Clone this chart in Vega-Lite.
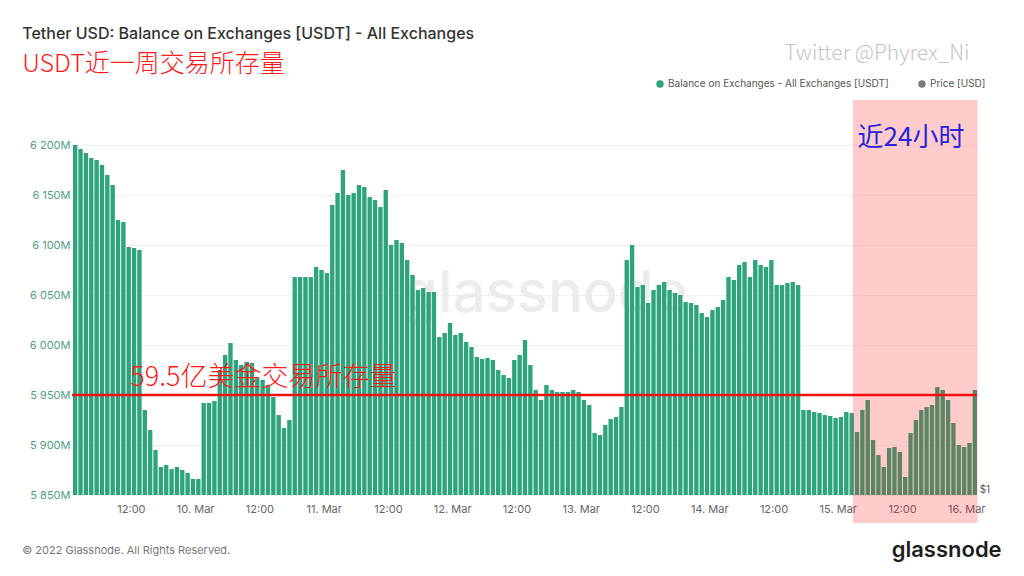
{
  "$schema": "https://vega.github.io/schema/vega-lite/v6.json",
  "width": 905,
  "height": 395,
  "autosize": "none",
  "padding": {"left": 72, "top": 100, "right": 47, "bottom": 81},
  "background": "white",
  "config": {"view": {"stroke": null}, "font": "Inter"},
  "datasets": {
    "balance": [
      {"t": "2022-03-09T01:00Z", "v": 6200}, {"t": "2022-03-09T02:00Z", "v": 6196}, {"t": "2022-03-09T03:00Z", "v": 6192},
      {"t": "2022-03-09T04:00Z", "v": 6187}, {"t": "2022-03-09T05:00Z", "v": 6185}, {"t": "2022-03-09T06:00Z", "v": 6180},
      {"t": "2022-03-09T07:00Z", "v": 6170}, {"t": "2022-03-09T08:00Z", "v": 6160}, {"t": "2022-03-09T09:00Z", "v": 6125},
      {"t": "2022-03-09T10:00Z", "v": 6123}, {"t": "2022-03-09T11:00Z", "v": 6098}, {"t": "2022-03-09T12:00Z", "v": 6097},
      {"t": "2022-03-09T13:00Z", "v": 6095}, {"t": "2022-03-09T14:00Z", "v": 5935}, {"t": "2022-03-09T15:00Z", "v": 5915},
      {"t": "2022-03-09T16:00Z", "v": 5895}, {"t": "2022-03-09T17:00Z", "v": 5878}, {"t": "2022-03-09T18:00Z", "v": 5880},
      {"t": "2022-03-09T19:00Z", "v": 5876}, {"t": "2022-03-09T20:00Z", "v": 5878}, {"t": "2022-03-09T21:00Z", "v": 5875},
      {"t": "2022-03-09T22:00Z", "v": 5872}, {"t": "2022-03-09T23:00Z", "v": 5866}, {"t": "2022-03-10T00:00Z", "v": 5866},
      {"t": "2022-03-10T01:00Z", "v": 5942}, {"t": "2022-03-10T02:00Z", "v": 5942}, {"t": "2022-03-10T03:00Z", "v": 5944},
      {"t": "2022-03-10T04:00Z", "v": 5975}, {"t": "2022-03-10T05:00Z", "v": 5990}, {"t": "2022-03-10T06:00Z", "v": 6002},
      {"t": "2022-03-10T07:00Z", "v": 5985}, {"t": "2022-03-10T08:00Z", "v": 5980}, {"t": "2022-03-10T09:00Z", "v": 5983},
      {"t": "2022-03-10T10:00Z", "v": 5982}, {"t": "2022-03-10T11:00Z", "v": 5968}, {"t": "2022-03-10T12:00Z", "v": 5965},
      {"t": "2022-03-10T13:00Z", "v": 5960}, {"t": "2022-03-10T14:00Z", "v": 5948}, {"t": "2022-03-10T15:00Z", "v": 5930},
      {"t": "2022-03-10T16:00Z", "v": 5917}, {"t": "2022-03-10T17:00Z", "v": 5925}, {"t": "2022-03-10T18:00Z", "v": 6068},
      {"t": "2022-03-10T19:00Z", "v": 6068}, {"t": "2022-03-10T20:00Z", "v": 6068}, {"t": "2022-03-10T21:00Z", "v": 6068},
      {"t": "2022-03-10T22:00Z", "v": 6078}, {"t": "2022-03-10T23:00Z", "v": 6075}, {"t": "2022-03-11T00:00Z", "v": 6072},
      {"t": "2022-03-11T01:00Z", "v": 6140}, {"t": "2022-03-11T02:00Z", "v": 6152}, {"t": "2022-03-11T03:00Z", "v": 6175},
      {"t": "2022-03-11T04:00Z", "v": 6150}, {"t": "2022-03-11T05:00Z", "v": 6152}, {"t": "2022-03-11T06:00Z", "v": 6160},
      {"t": "2022-03-11T07:00Z", "v": 6158}, {"t": "2022-03-11T08:00Z", "v": 6148}, {"t": "2022-03-11T09:00Z", "v": 6145},
      {"t": "2022-03-11T10:00Z", "v": 6138}, {"t": "2022-03-11T11:00Z", "v": 6155}, {"t": "2022-03-11T12:00Z", "v": 6100},
      {"t": "2022-03-11T13:00Z", "v": 6105}, {"t": "2022-03-11T14:00Z", "v": 6102}, {"t": "2022-03-11T15:00Z", "v": 6085},
      {"t": "2022-03-11T16:00Z", "v": 6070}, {"t": "2022-03-11T17:00Z", "v": 6055}, {"t": "2022-03-11T18:00Z", "v": 6057},
      {"t": "2022-03-11T19:00Z", "v": 6053}, {"t": "2022-03-11T20:00Z", "v": 6053}, {"t": "2022-03-11T21:00Z", "v": 6008},
      {"t": "2022-03-11T22:00Z", "v": 6012}, {"t": "2022-03-11T23:00Z", "v": 6022}, {"t": "2022-03-12T00:00Z", "v": 6010},
      {"t": "2022-03-12T01:00Z", "v": 6012}, {"t": "2022-03-12T02:00Z", "v": 6003}, {"t": "2022-03-12T03:00Z", "v": 5998},
      {"t": "2022-03-12T04:00Z", "v": 5988}, {"t": "2022-03-12T05:00Z", "v": 5986}, {"t": "2022-03-12T06:00Z", "v": 5987},
      {"t": "2022-03-12T07:00Z", "v": 5985}, {"t": "2022-03-12T08:00Z", "v": 5975}, {"t": "2022-03-12T09:00Z", "v": 5970},
      {"t": "2022-03-12T10:00Z", "v": 5967}, {"t": "2022-03-12T11:00Z", "v": 5985}, {"t": "2022-03-12T12:00Z", "v": 5990},
      {"t": "2022-03-12T13:00Z", "v": 6005}, {"t": "2022-03-12T14:00Z", "v": 5980}, {"t": "2022-03-12T15:00Z", "v": 5955},
      {"t": "2022-03-12T16:00Z", "v": 5945}, {"t": "2022-03-12T17:00Z", "v": 5960}, {"t": "2022-03-12T18:00Z", "v": 5955},
      {"t": "2022-03-12T19:00Z", "v": 5953}, {"t": "2022-03-12T20:00Z", "v": 5953}, {"t": "2022-03-12T21:00Z", "v": 5953},
      {"t": "2022-03-12T22:00Z", "v": 5955}, {"t": "2022-03-12T23:00Z", "v": 5953}, {"t": "2022-03-13T00:00Z", "v": 5945},
      {"t": "2022-03-13T01:00Z", "v": 5940}, {"t": "2022-03-13T02:00Z", "v": 5912}, {"t": "2022-03-13T03:00Z", "v": 5910},
      {"t": "2022-03-13T04:00Z", "v": 5920}, {"t": "2022-03-13T05:00Z", "v": 5926}, {"t": "2022-03-13T06:00Z", "v": 5928},
      {"t": "2022-03-13T07:00Z", "v": 5938}, {"t": "2022-03-13T08:00Z", "v": 6085}, {"t": "2022-03-13T09:00Z", "v": 6100},
      {"t": "2022-03-13T10:00Z", "v": 6058}, {"t": "2022-03-13T11:00Z", "v": 6060}, {"t": "2022-03-13T12:00Z", "v": 6042},
      {"t": "2022-03-13T13:00Z", "v": 6055}, {"t": "2022-03-13T14:00Z", "v": 6060}, {"t": "2022-03-13T15:00Z", "v": 6063},
      {"t": "2022-03-13T16:00Z", "v": 6055}, {"t": "2022-03-13T17:00Z", "v": 6052}, {"t": "2022-03-13T18:00Z", "v": 6050},
      {"t": "2022-03-13T19:00Z", "v": 6043}, {"t": "2022-03-13T20:00Z", "v": 6042}, {"t": "2022-03-13T21:00Z", "v": 6040},
      {"t": "2022-03-13T22:00Z", "v": 6032}, {"t": "2022-03-13T23:00Z", "v": 6028}, {"t": "2022-03-14T00:00Z", "v": 6035},
      {"t": "2022-03-14T01:00Z", "v": 6038}, {"t": "2022-03-14T02:00Z", "v": 6045}, {"t": "2022-03-14T03:00Z", "v": 6068},
      {"t": "2022-03-14T04:00Z", "v": 6065}, {"t": "2022-03-14T05:00Z", "v": 6080}, {"t": "2022-03-14T06:00Z", "v": 6083},
      {"t": "2022-03-14T07:00Z", "v": 6068}, {"t": "2022-03-14T08:00Z", "v": 6085}, {"t": "2022-03-14T09:00Z", "v": 6080},
      {"t": "2022-03-14T10:00Z", "v": 6078}, {"t": "2022-03-14T11:00Z", "v": 6085}, {"t": "2022-03-14T12:00Z", "v": 6060},
      {"t": "2022-03-14T13:00Z", "v": 6060}, {"t": "2022-03-14T14:00Z", "v": 6062}, {"t": "2022-03-14T15:00Z", "v": 6063},
      {"t": "2022-03-14T16:00Z", "v": 6060}, {"t": "2022-03-14T17:00Z", "v": 5935}, {"t": "2022-03-14T18:00Z", "v": 5935},
      {"t": "2022-03-14T19:00Z", "v": 5933}, {"t": "2022-03-14T20:00Z", "v": 5932}, {"t": "2022-03-14T21:00Z", "v": 5930},
      {"t": "2022-03-14T22:00Z", "v": 5929}, {"t": "2022-03-14T23:00Z", "v": 5927}, {"t": "2022-03-15T00:00Z", "v": 5928},
      {"t": "2022-03-15T01:00Z", "v": 5933}, {"t": "2022-03-15T02:00Z", "v": 5932}, {"t": "2022-03-15T03:00Z", "v": 5913},
      {"t": "2022-03-15T04:00Z", "v": 5935}, {"t": "2022-03-15T05:00Z", "v": 5945}, {"t": "2022-03-15T06:00Z", "v": 5905},
      {"t": "2022-03-15T07:00Z", "v": 5890}, {"t": "2022-03-15T08:00Z", "v": 5878}, {"t": "2022-03-15T09:00Z", "v": 5897},
      {"t": "2022-03-15T10:00Z", "v": 5898}, {"t": "2022-03-15T11:00Z", "v": 5893}, {"t": "2022-03-15T12:00Z", "v": 5868},
      {"t": "2022-03-15T13:00Z", "v": 5912}, {"t": "2022-03-15T14:00Z", "v": 5925}, {"t": "2022-03-15T15:00Z", "v": 5935},
      {"t": "2022-03-15T16:00Z", "v": 5938}, {"t": "2022-03-15T17:00Z", "v": 5940}, {"t": "2022-03-15T18:00Z", "v": 5958},
      {"t": "2022-03-15T19:00Z", "v": 5955}, {"t": "2022-03-15T20:00Z", "v": 5945}, {"t": "2022-03-15T21:00Z", "v": 5922},
      {"t": "2022-03-15T22:00Z", "v": 5900}, {"t": "2022-03-15T23:00Z", "v": 5898}, {"t": "2022-03-16T00:00Z", "v": 5902},
      {"t": "2022-03-16T01:00Z", "v": 5955}
    ]
  },
  "layer": [
    {
      "data": {"values": [{"t": "2022-03-12T17:18Z", "v": 6050, "label": "glassnode"}]},
      "mark": {"type": "text", "font": "Inter", "fontSize": 58, "fontWeight": 500, "color": "#ececec", "align": "center", "baseline": "middle"},
      "encoding": {
        "x": {"field": "t", "type": "temporal"},
        "y": {"field": "v", "type": "quantitative"},
        "text": {"field": "label"}
      }
    },
    {
      "data": {"name": "balance"},
      "mark": {"type": "bar", "clip": true},
      "encoding": {
        "x": {
          "field": "t", "type": "temporal", "timeUnit": "utcyearmonthdatehours",
          "scale": {"type": "utc", "domain": {"expr": "[utc(2022, 2, 9, 1, 0, 0, 0), utc(2022, 2, 16, 2, 0, 0, 0)]"}},
          "axis": {
            "title": null, "grid": false, "domain": false, "ticks": false,
            "labelExpr": "utchours(datum.value) == 0 ? utcFormat(datum.value, '%-d. %b') : (utchours(datum.value) == 12 ? '12:00' : '')",
            "labelFont": "Inter", "labelFontSize": 11, "labelColor": "#666666", "labelPadding": 8,
            "labelFlush": false, "labelOverlap": false
          }
        },
        "y": {
          "field": "v", "type": "quantitative",
          "scale": {"domain": [5850, 6245], "zero": false, "nice": false},
          "axis": {
            "title": null, "domain": false, "ticks": false,
            "values": [5850, 5900, 5950, 6000, 6050, 6100, 6150, 6200],
            "labelExpr": "replace(format(datum.value, ','), ',', ' ') + 'M'",
            "labelFont": "Inter", "labelFontSize": 11, "labelColor": "#4f9f85", "labelPadding": 2,
            "gridColor": "#f0f0f0"
          }
        },
        "color": {
          "datum": "Balance on Exchanges - All Exchanges [USDT]",
          "type": "nominal",
          "scale": {"domain": ["Balance on Exchanges - All Exchanges [USDT]", "Price [USD]"], "range": ["#2ea47d", "#7a7a7a"]},
          "legend": {
            "title": null, "orient": "none", "direction": "horizontal",
            "legendX": 583, "legendY": -21,
            "symbolType": "circle", "symbolSize": 55, "symbolStrokeWidth": 0,
            "labelFont": "Inter", "labelFontSize": 10, "labelColor": "#555555", "labelLimit": 400,
            "columnPadding": 28, "labelOffset": 3
          }
        }
      }
    },
    {
      "data": {"values": [{"t1": "2022-03-15T02:48Z", "t2": "2022-03-16T02:06Z", "v1": 5822, "v2": 6245}]},
      "mark": {"type": "rect", "color": "#ff1010", "opacity": 0.22},
      "encoding": {
        "x": {"field": "t1", "type": "temporal"},
        "x2": {"field": "t2"},
        "y": {"field": "v1", "type": "quantitative"},
        "y2": {"field": "v2"}
      }
    },
    {
      "data": {"values": [{"v": 5950}]},
      "mark": {"type": "rule", "color": "#f01010", "strokeWidth": 2.5},
      "encoding": {"y": {"field": "v", "type": "quantitative"}}
    },
    {
      "data": {"values": [{"t": "2022-03-09T11:54Z", "v": 5967, "label": "59.5亿美金交易所存量"}]},
      "mark": {"type": "text", "font": "Noto Sans CJK SC", "fontSize": 27, "fontWeight": 300, "color": "#ff1a1a", "align": "left", "baseline": "middle"},
      "encoding": {
        "x": {"field": "t", "type": "temporal"},
        "y": {"field": "v", "type": "quantitative"},
        "text": {"field": "label"}
      }
    },
    {
      "data": {"values": [{"t": "2022-03-15T03:42Z", "v": 6207, "label": "近24小时"}]},
      "mark": {"type": "text", "font": "Noto Sans CJK SC", "fontSize": 26, "fontWeight": 400, "color": "#2525e0", "align": "left", "baseline": "middle"},
      "encoding": {
        "x": {"field": "t", "type": "temporal"},
        "y": {"field": "v", "type": "quantitative"},
        "text": {"field": "label"}
      }
    },
    {
      "data": {"values": [{"t": "2022-03-16T00:36Z", "v": 6291, "label": "Twitter @Phyrex_Ni"}]},
      "mark": {"type": "text", "font": "Noto Sans CJK SC", "fontSize": 21, "fontWeight": 300, "color": "#c4c4c4", "align": "right", "baseline": "middle"},
      "encoding": {
        "x": {"field": "t", "type": "temporal"},
        "y": {"field": "v", "type": "quantitative"},
        "text": {"field": "label"}
      }
    },
    {
      "data": {"values": [{"t": "2022-03-08T15:42Z", "v": 6311, "label": "Tether USD: Balance on Exchanges [USDT] - All Exchanges"}]},
      "mark": {"type": "text", "font": "Inter", "fontSize": 16, "fontWeight": 500, "color": "#333333", "align": "left", "baseline": "middle"},
      "encoding": {
        "x": {"field": "t", "type": "temporal"},
        "y": {"field": "v", "type": "quantitative"},
        "text": {"field": "label"}
      }
    },
    {
      "data": {"values": [{"t": "2022-03-08T15:42Z", "v": 6281, "label": "USDT近一周交易所存量"}]},
      "mark": {"type": "text", "font": "Noto Sans CJK SC", "fontSize": 25, "fontWeight": 300, "color": "#ff1a1a", "align": "left", "baseline": "middle"},
      "encoding": {
        "x": {"field": "t", "type": "temporal"},
        "y": {"field": "v", "type": "quantitative"},
        "text": {"field": "label"}
      }
    },
    {
      "data": {"values": [{"t": "2022-03-08T15:42Z", "v": 5794, "label": "© 2022 Glassnode. All Rights Reserved."}]},
      "mark": {"type": "text", "font": "Inter", "fontSize": 11, "color": "#777777", "align": "left", "baseline": "middle"},
      "encoding": {
        "x": {"field": "t", "type": "temporal"},
        "y": {"field": "v", "type": "quantitative"},
        "text": {"field": "label"}
      }
    },
    {
      "data": {"values": [{"t": "2022-03-16T06:36Z", "v": 5795, "label": "glassnode"}]},
      "mark": {"type": "text", "font": "Inter", "fontSize": 22, "fontWeight": 600, "color": "#1e1e1e", "align": "right", "baseline": "middle"},
      "encoding": {
        "x": {"field": "t", "type": "temporal"},
        "y": {"field": "v", "type": "quantitative"},
        "text": {"field": "label"}
      }
    },
    {
      "data": {"values": [{"t": "2022-03-16T02:30Z", "v": 5855, "label": "$1"}]},
      "mark": {"type": "text", "font": "Inter", "fontSize": 10, "color": "#555555", "align": "left", "baseline": "middle"},
      "encoding": {
        "x": {"field": "t", "type": "temporal"},
        "y": {"field": "v", "type": "quantitative"},
        "text": {"field": "label"}
      }
    }
  ]
}
